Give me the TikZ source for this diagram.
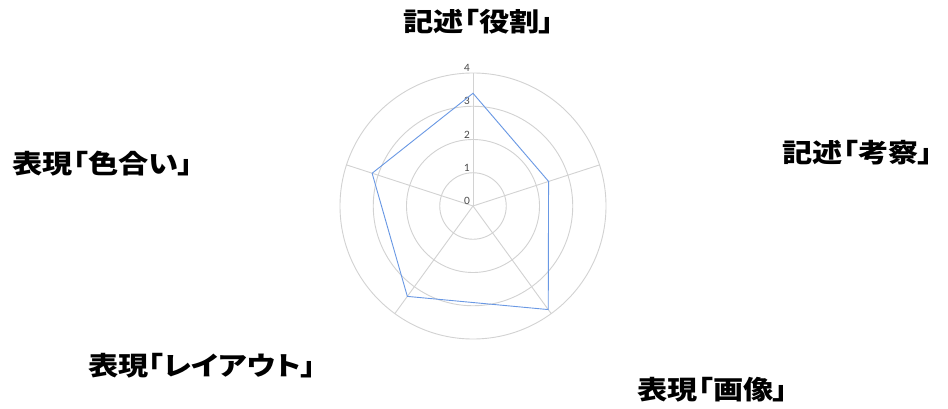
\documentclass[tikz,border=0pt]{standalone}
\usepackage{fontspec}
\usetikzlibrary{calc}
\newfontfamily\cjk[RawFeature=+palt]{Noto Sans CJK JP}
\setsansfont{Lato}
\definecolor{gridc}{RGB}{210,210,210}
\definecolor{polyc}{RGB}{105,152,228}
\definecolor{tickc}{RGB}{70,70,70}
\begin{document}
\begin{tikzpicture}[x=1pt,y=1pt,
  axislabel/.style={font=\cjk\bfseries\fontsize{26}{26}\selectfont, inner sep=0pt, text=black, xscale=1.16},
  ticklabel/.style={font=\sffamily\fontsize{10}{10}\selectfont, text=tickc, inner sep=0pt},
  gridline/.style={draw=gridc, line width=0.9pt},
  poly/.style={draw=polyc, line width=0.9pt, line join=miter}]
\fill[white] (0,0) rectangle (948,408);
\useasboundingbox (0,0) rectangle (948,408);
\coordinate (c) at (473,202);
\def\R{133}
% rings
\foreach \k in {1,2,3,4}{
  \draw[gridline] (c) circle ({\k*\R/4});
}
% spokes
\foreach \a/\n in {90/a,18/b,-54/d,-126/e,162/f}{
  \coordinate (s\n) at ($(c)+(\a:\R)$);
  \draw[gridline] (c) -- (s\n);
}
% tick labels
\foreach \k in {0,1,2,3,4}{
  \node[ticklabel] (t\k) at ($(c)+(-6,{\k*\R/4+5})$) {\k};
}
% data polygon
\coordinate (pa) at ($(c)+(90:{3.39*\R/4})$);
\coordinate (pb) at ($(c)+(18:{2.39*\R/4})$);
\coordinate (pd) at ($(c)+(-54:{3.85*\R/4})$);
\coordinate (pe) at ($(c)+(-126:{3.36*\R/4})$);
\coordinate (pf) at ($(c)+(162:{3.19*\R/4})$);
\draw[poly] (pa) -- (pb) -- (pd) -- (pe) -- (pf) -- cycle;
% axis labels
\node[axislabel] (la) at (479,386) {記述「役割」};
\node[axislabel] (lb) at (858,255) {記述「考察」};
\node[axislabel] (ld) at (713,18) {表現「画像」};
\node[axislabel] (le) at (202,42) {表現「レイアウト」};
\node[axislabel] (lf) at (103,244) {表現「色合い」};
\end{tikzpicture}
\end{document}
